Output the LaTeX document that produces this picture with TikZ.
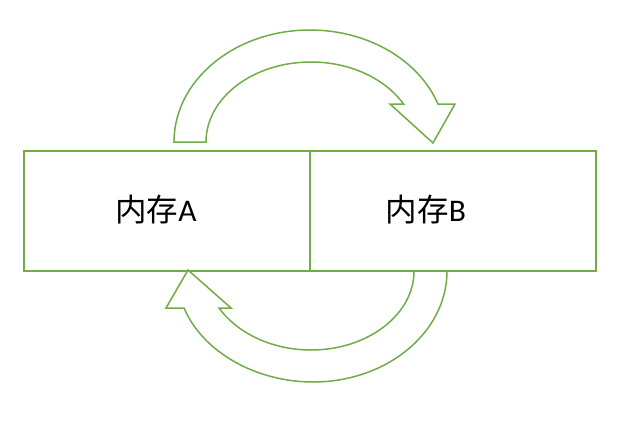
\documentclass[tikz,border=0pt]{standalone}
\usepackage{fontspec}
\newfontfamily\cjk{Noto Sans CJK SC}
\newfontfamily\latinf{Carlito}
\definecolor{acc}{HTML}{70AD47}
\begin{document}
\begin{tikzpicture}[x=1pt,y=-1pt,
  box/.style={draw=acc,line width=1.5pt,minimum width=286pt,minimum height=120pt,inner sep=0pt},
  shapeline/.style={draw=acc,line width=1.5pt,line join=miter},
  lbl/.style={inner sep=0pt,font=\fontsize{31.5}{36}\selectfont}]
\useasboundingbox (0,0) rectangle (640,421);
\node[box] (ma) at (167,211) {};
\node[box] (mb) at (453,211) {};
\node[lbl] (ta) at (156,210) {\cjk 内存\latinf A};
\node[lbl] (tb) at (426,210) {\cjk 内存\latinf B};
% top curved arrow
\draw[shapeline] (174,142) .. controls (174,80) and (235,30) .. (310,30)
  .. controls (367.4,30) and (418.6,59.6) .. (438,104)
  -- (455,104) -- (433,143) -- (390,104) -- (403.5,104)
  .. controls (384.5,77.9) and (349.3,62) .. (311,62)
  .. controls (253,62) and (206,97.8) .. (206,142) -- cycle;
% bottom curved arrow
\draw[shapeline] (447,271) .. controls (447,332.3) and (387,382) .. (313,382)
  .. controls (256.3,382) and (202.9,352.3) .. (184,308)
  -- (166,308) -- (188,270) -- (231,308) -- (219,308)
  .. controls (237.8,333.8) and (272.9,350) .. (311,350)
  .. controls (367.9,350) and (414,314.6) .. (414,271) -- cycle;
\end{tikzpicture}
\end{document}
